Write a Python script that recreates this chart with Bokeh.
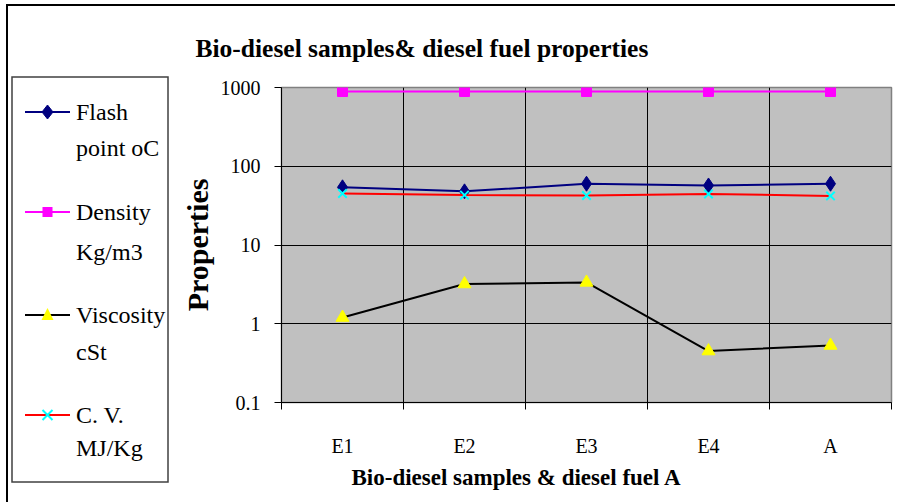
import math
from bokeh.plotting import figure
from bokeh.layouts import row
from bokeh.models import (FixedTicker, Range1d, CustomJSTickFormatter, Title, Div)
from bokeh.embed import file_html
from bokeh.resources import INLINE

categories = ["E1", "E2", "E3", "E4", "A"]
flash_point = [54, 48, 60, 57, 60]
density = [890, 890, 890, 890, 890]
viscosity = [1.2, 3.2, 3.35, 0.45, 0.53]
calorific = [45, 43, 42.5, 44.5, 42]
y_ticks = [0.1, 1, 10, 100, 1000]

series_names = ["Flash", "Density", "Viscosity", "C. V."]
series_units = ["point oC", "Kg/m3", "cSt", "MJ/Kg"]
line_colors = ["#000080", "#FF00FF", "black", "#FF0000"]
markers = ["diamond", "square", "triangle", "x"]
marker_fill = ["#000080", "#FF00FF", "#FFFF00", "none"]
marker_line = ["#000080", "#FF00FF", "#FFFF00", "#00FFFF"]
marker_size = [15, 10, 13, 12]

SERIF = "Liberation Serif"
OX, OY = 8, 6            # page offset of content (after outer border)
SPLIT = 175              # page x where the chart canvas starts
FL, FR, FT, FB = 283, 893, 87, 402   # plot frame in page px

# ---------------- legend (inline SVG inside a Div) ----------------
def marker_svg(kind, cx, cy, fill, stroke):
    if kind == "diamond":
        return (f'<polygon points="{cx},{cy-7} {cx+5.5},{cy} {cx},{cy+7} {cx-5.5},{cy}" '
                f'fill="{fill}" stroke="{stroke}"/>')
    if kind == "square":
        return f'<rect x="{cx-5}" y="{cy-5}" width="10" height="10" fill="{fill}"/>'
    if kind == "triangle":
        return (f'<polygon points="{cx},{cy-7} {cx+6},{cy+5} {cx-6},{cy+5}" '
                f'fill="{fill}"/>')
    return (f'<path d="M{cx-5},{cy-5} L{cx+5},{cy+5} M{cx-5},{cy+5} L{cx+5},{cy-5}" '
            f'stroke="{stroke}" stroke-width="2"/>')

LW = SPLIT - OX
first_line_y = [112, 212, 315, 415]
second_line_y = [148, 252, 352, 448]
font_style = f"font-family:'{SERIF}',serif;font-size:24px"
parts = [f'<svg xmlns="http://www.w3.org/2000/svg" width="{LW}" height="{504 - OY}" '
         f'style="display:block;{font_style}">',
         f'<rect x="{12 - OX}" y="{77 - OY}" width="156" height="405" fill="none" '
         f'stroke="#404040" stroke-width="1.5"/>']
for i in range(len(series_names)):
    y1 = first_line_y[i] - OY
    y2 = second_line_y[i] - OY
    parts.append(f'<line x1="{25 - OX}" y1="{y1}" x2="{70 - OX}" y2="{y1}" '
                 f'stroke="{line_colors[i]}" stroke-width="2"/>')
    parts.append(marker_svg(markers[i], 47.5 - OX, y1, marker_fill[i], marker_line[i]))
    for txt, yy in ((series_names[i], y1), (series_units[i], y2)):
        parts.append(f'<text x="{76 - OX}" y="{yy + 8}" style="{font_style}" '
                     f'fill="black">{txt}</text>')
parts.append('</svg>')
legend_div = Div(text="".join(parts), width=LW, height=504 - OY,
                 margin=(OY - 2, 0, 0, OX - 2),
                 styles={"border-left": "2px solid black",
                         "border-top": "2px solid black",
                         "font-family": f"'{SERIF}', serif"})

# ---------------- main chart ----------------
x = [i + 0.5 for i in range(len(categories))]
p = figure(width=897 - SPLIT, height=504 - OY,
           x_range=Range1d(0, len(categories)),
           y_range=Range1d(0.1, 1000), y_axis_type="log",
           output_backend="svg", toolbar_location=None,
           min_border_left=FL - SPLIT, min_border_right=897 - FR,
           min_border_top=FT - OY, min_border_bottom=504 - FB)
p.margin = (OY - 2, 0, 0, 0)
p.styles = {"border-top": "2px solid black"}

p.title.text = "Bio-diesel samples& diesel fuel properties"
p.title.align = "left"
p.title.offset = 197 - FL
p.title.standoff = 50
p.title.text_font = SERIF
p.title.text_font_size = "25.5px"
p.title.text_font_style = "bold"
p.title.text_color = "black"

p.background_fill_color = "#C0C0C0"
p.border_fill_color = "white"
p.outline_line_color = "#808080"
p.outline_line_width = 1.5

p.yaxis.ticker = FixedTicker(ticks=y_ticks, minor_ticks=[])
p.yaxis.formatter = CustomJSTickFormatter(code="return tick.toString();")
p.yaxis.major_tick_out = 7
p.yaxis.major_tick_in = 0
p.yaxis.major_label_standoff = 14
p.yaxis.major_label_text_font = SERIF
p.yaxis.major_label_text_font_size = "20px"
p.yaxis.major_label_text_color = "black"
p.yaxis.axis_line_color = "black"
p.yaxis.major_tick_line_color = "black"
p.yaxis.axis_label = "Properties"
p.yaxis.axis_label_text_font = SERIF
p.yaxis.axis_label_text_font_size = "30px"
p.yaxis.axis_label_text_font_style = "bold"
p.yaxis.axis_label_text_color = "black"
p.yaxis.axis_label_standoff = 4

p.xaxis.ticker = FixedTicker(ticks=x, minor_ticks=list(range(len(categories) + 1)))
p.xaxis.formatter = CustomJSTickFormatter(args=dict(labels=categories),
                                          code="return labels[Math.floor(tick)];")
p.xaxis.major_tick_line_color = None
p.xaxis.major_tick_out = 0
p.xaxis.minor_tick_out = 7
p.xaxis.minor_tick_in = 0
p.xaxis.minor_tick_line_color = "black"
p.xaxis.major_label_standoff = 25
p.xaxis.major_label_text_font = SERIF
p.xaxis.major_label_text_font_size = "20px"
p.xaxis.major_label_text_color = "black"
p.xaxis.axis_line_color = "black"

p.add_layout(Title(text="Bio-diesel samples  & diesel fuel A", align="left",
                   offset=353 - FL, standoff=11, vertical_align="top",
                   text_font=SERIF, text_font_size="23px", text_font_style="bold",
                   text_color="black"), "below")

p.ygrid.ticker = FixedTicker(ticks=y_ticks, minor_ticks=[])
p.ygrid.grid_line_color = "black"
p.ygrid.grid_line_alpha = 1
p.xgrid.ticker = FixedTicker(ticks=list(range(1, len(categories))), minor_ticks=[])
p.xgrid.grid_line_color = "black"
p.xgrid.grid_line_alpha = 1

for vals, lc, mk, mf, ml, ms in zip([flash_point, density, viscosity, calorific],
                                    line_colors, markers, marker_fill, marker_line,
                                    marker_size):
    p.line(x, vals, line_color=lc, line_width=2)
    p.scatter(x, vals, marker=mk, size=ms, fill_color=None if mf == "none" else mf,
              line_color=ml, line_width=2 if mk == "x" else 1)

layout = row(legend_div, p, spacing=0)
open("out.html", "w").write(file_html(layout, INLINE))
